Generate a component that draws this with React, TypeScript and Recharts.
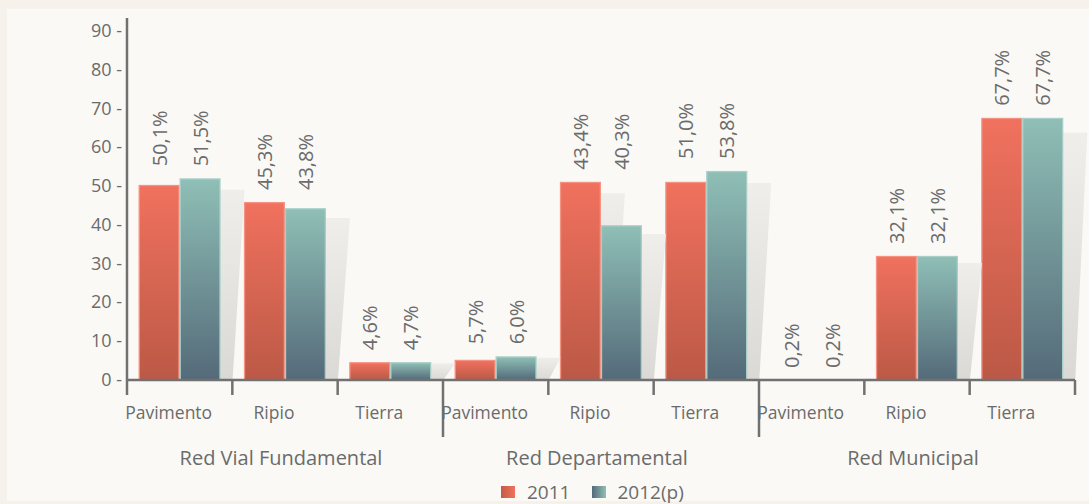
import React from 'react';
import { BarChart, Bar, XAxis, YAxis } from 'recharts';

const categories = ['Pavimento', 'Ripio', 'Tierra', 'Pavimento', 'Ripio', 'Tierra', 'Pavimento', 'Ripio', 'Tierra'];
const groups = ['Red Vial Fundamental', 'Red Departamental', 'Red Municipal'];
const values2011 = [50.3, 45.9, 4.6, 5.2, 51.1, 51.1, 0, 32.0, 67.6];
const values2012 = [52.0, 44.3, 4.6, 6.1, 39.9, 53.9, 0, 32.0, 67.6];
const labels2011 = ['50,1%', '45,3%', '4,6%', '5,7%', '43,4%', '51,0%', '0,2%', '32,1%', '67,7%'];
const labels2012 = ['51,5%', '43,8%', '4,7%', '6,0%', '40,3%', '53,8%', '0,2%', '32,1%', '67,7%'];
const yTicks = [0, 10, 20, 30, 40, 50, 60, 70, 80, 90];
const seriesNames = ['2011', '2012(p)'];

const data = categories.map((c, i) => ({
  id: String(i),
  cat: c,
  v2011: values2011[i],
  v2012: values2012[i],
  l2011: labels2011[i],
  l2012: labels2012[i],
}));

const W = 1089;
const H = 504;
const Y_MAX = 93.35;
const M_TOP = 18;
const M_LEFT = 67;
const M_RIGHT = 14;
const Y_AXIS_W = 60;
const X_AXIS_H = 124;
const FONT = "'Open Sans', 'Noto Sans', sans-serif";
const TEXT = '#6b6b6b';
const AXIS = '#717171';
const BAND = (W - M_LEFT - Y_AXIS_W - M_RIGHT) / categories.length;

const makeShape = (series: number) => (props: any) => {
  const { x, y, width, height, payload, background } = props;
  if (x == null || width == null) return <g />;
  const h = Math.max(0, height || 0);
  const base = (y || 0) + (height || 0);
  const plotTop = background && typeof background.y === 'number' ? background.y : M_TOP;
  const pxPerUnit = (base - plotTop) / Y_MAX;
  const pairMax = Math.max(payload.v2011, payload.v2012);
  const labelY = base - pairMax * pxPerUnit - 12;
  const top = base - h;
  const dy = h * 0.057;
  const label = series === 0 ? payload.l2011 : payload.l2012;
  const cx = x + width / 2;
  const pts = `${x + 12},${base} ${x + width + 12},${base} ${x + width + 24},${top + dy} ${x + 24},${top + dy}`;
  return (
    <g>
      {h > 0 && <polygon points={pts} fill="url(#gShadow)" />}
      {h > 0 && (
        <rect
          x={x + 0.6}
          y={top + 0.6}
          width={Math.max(0, width - 1.2)}
          height={Math.max(0, h - 0.6)}
          fill={series === 0 ? 'url(#g2011)' : 'url(#g2012)'}
          stroke={series === 0 ? '#f59382' : '#a8cec7'}
          strokeWidth={1.3}
        />
      )}
      <text
        x={cx}
        y={labelY}
        transform={`rotate(-90 ${cx} ${labelY})`}
        textAnchor="start"
        dominantBaseline="central"
        fontFamily={FONT}
        fontSize={20}
        fill={TEXT}
      >
        {label}
      </text>
    </g>
  );
};

const YTick = (props: any) => {
  const { x, y, payload } = props;
  return (
    <text x={x} y={y} dy={6} textAnchor="end" fontFamily={FONT} fontSize={18} fill={TEXT}>
      {`${payload.value} -`}
    </text>
  );
};

const XTick = (props: any) => {
  const { x, y, payload, index } = props;
  const i = typeof payload?.index === 'number' ? payload.index : index;
  const half = typeof payload?.offset === 'number' && payload.offset > 0 ? payload.offset : BAND / 2;
  const left = x - half;
  const isGroupStart = i % 3 === 0 && i !== 0;
  const isLast = i === categories.length - 1;
  return (
    <g>
      <line x1={left} x2={left} y1={y} y2={y + (isGroupStart ? 57 : 15)} stroke={AXIS} strokeWidth={2.5} />
      {isLast && <line x1={x + half} x2={x + half} y1={y} y2={y + 15} stroke={AXIS} strokeWidth={2.5} />}
      <text x={x - 11} y={y + 39} textAnchor="middle" fontFamily={FONT} fontSize={17.5} fill={TEXT}>
        {categories[i]}
      </text>
      {i % 3 === 1 && (
        <text x={x - 4} y={y + 85} textAnchor="middle" fontFamily={FONT} fontSize={20} fill={TEXT}>
          {groups[(i - 1) / 3]}
        </text>
      )}
    </g>
  );
};

export default function App() {
  return (
    <div style={{ position: 'fixed', left: 0, top: 0, width: W, height: H, background: '#f6f1eb', overflow: 'hidden' }}>
      <div style={{ position: 'absolute', left: 7, top: 9, width: W - 7, height: H - 12, background: '#faf9f6' }} />
      <div style={{ position: 'absolute', left: 0, top: 0 }}>
        <BarChart
          width={W}
          height={H}
          data={data}
          margin={{ top: M_TOP, right: M_RIGHT, bottom: 0, left: M_LEFT }}
          barCategoryGap="11%"
          barGap={0}
        >
          <defs>
            <linearGradient id="g2011" x1="0" y1="0" x2="0" y2="1">
              <stop offset="0%" stopColor="#f0715e" />
              <stop offset="100%" stopColor="#bb5946" />
            </linearGradient>
            <linearGradient id="g2012" x1="0" y1="0" x2="0" y2="1">
              <stop offset="0%" stopColor="#8fbfb6" />
              <stop offset="100%" stopColor="#546a79" />
            </linearGradient>
            <linearGradient id="gShadow" x1="0" y1="0" x2="0" y2="1">
              <stop offset="0%" stopColor="#efeeeb" />
              <stop offset="100%" stopColor="#dbd9d5" />
            </linearGradient>
          </defs>
          <XAxis
            dataKey="id"
            height={X_AXIS_H}
            interval={0}
            tickLine={false}
            tickSize={0}
            tickMargin={0}
            axisLine={{ stroke: AXIS, strokeWidth: 2.5 }}
            tick={<XTick />}
          />
          <YAxis
            width={Y_AXIS_W}
            domain={[0, Y_MAX]}
            ticks={yTicks}
            allowDataOverflow
            tickLine={false}
            tickSize={0}
            tickMargin={5}
            axisLine={{ stroke: AXIS, strokeWidth: 2.5 }}
            tick={<YTick />}
          />
          <Bar dataKey="v2011" name={seriesNames[0]} isAnimationActive={false} shape={makeShape(0)} />
          <Bar dataKey="v2012" name={seriesNames[1]} isAnimationActive={false} shape={makeShape(1)} />
        </BarChart>
      </div>
      <div
        style={{
          position: 'absolute',
          left: 501,
          top: 482,
          display: 'flex',
          alignItems: 'center',
          fontFamily: FONT,
          fontSize: 19,
          color: TEXT,
          lineHeight: '20px',
          whiteSpace: 'nowrap',
        }}
      >
        <span style={{ width: 14, height: 12, background: 'linear-gradient(to right, #c25a47, #f0735f)', display: 'inline-block' }} />
        <span style={{ marginLeft: 12 }}>{seriesNames[0]}</span>
        <span style={{ marginLeft: 22, width: 14, height: 12, background: 'linear-gradient(to right, #546a79, #90c0b7)', display: 'inline-block' }} />
        <span style={{ marginLeft: 11 }}>{seriesNames[1]}</span>
      </div>
    </div>
  );
}
